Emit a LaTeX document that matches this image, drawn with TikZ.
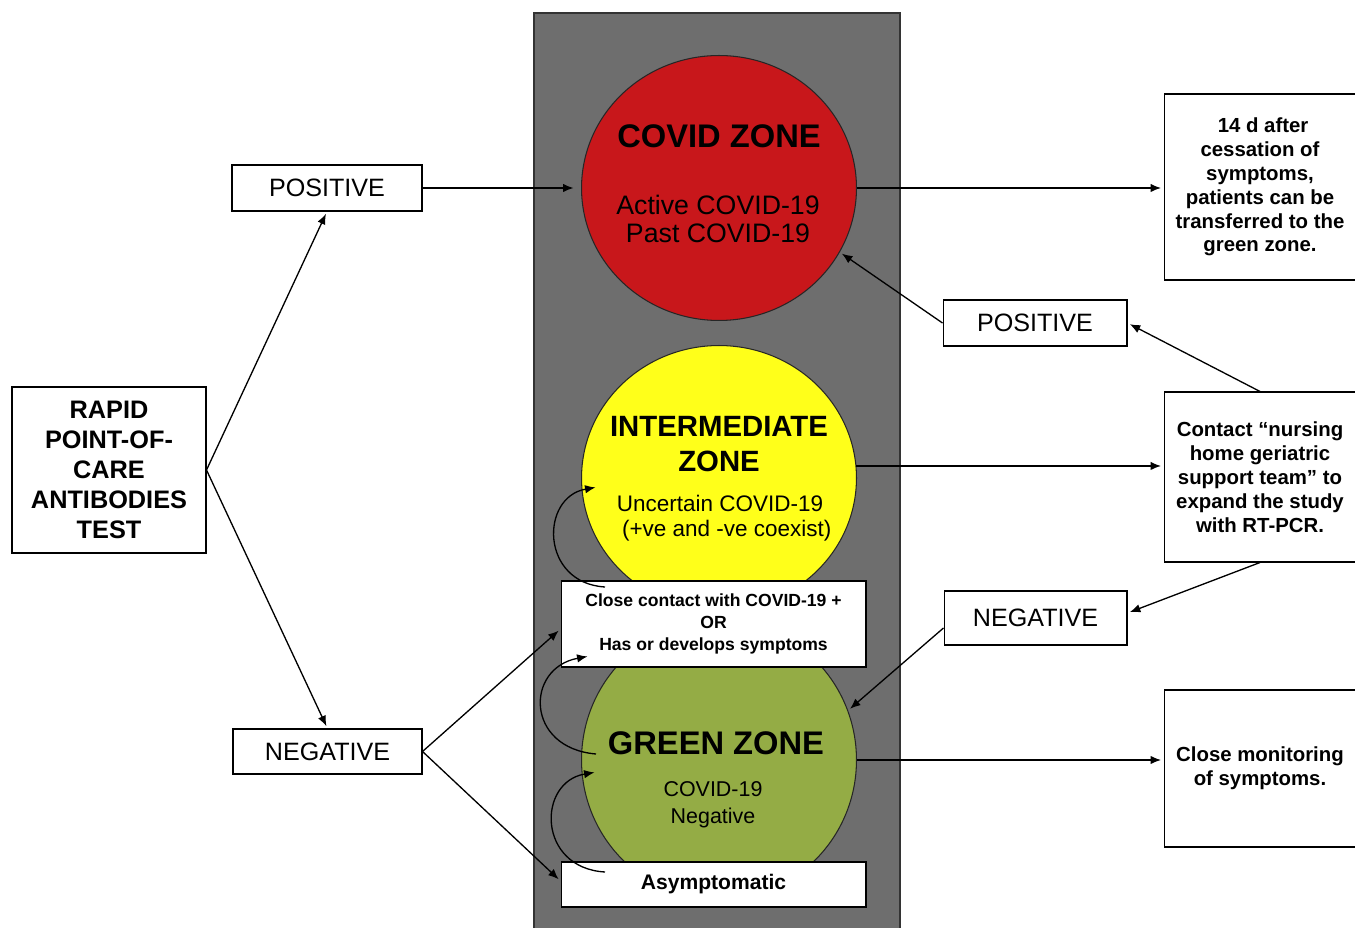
\documentclass[tikz,border=0pt]{standalone}
\usepackage{fontspec}
\setmainfont{Liberation Sans}
\usetikzlibrary{shapes.geometric,arrows.meta}
\definecolor{panel}{HTML}{6E6E6E}
\definecolor{zred}{HTML}{C8171B}
\definecolor{zyel}{HTML}{FFFF1A}
\definecolor{zgrn}{HTML}{94AC45}
\begin{document}
\begin{tikzpicture}[x=0.02cm,y=-0.02cm,
  box/.style={draw=black, line width=0.6pt, fill=white, inner sep=0pt, align=center},
  lbl/.style={font=\fontsize{14.3}{17}\selectfont},
  side/.style={font=\bfseries\fontsize{11.6}{13.6}\selectfont},
  conn/.style={line width=0.75pt, shorten >=0.5mm, -{Latex[length=2.1mm,width=1.7mm]}},
  zone/.style={ellipse, draw=black!85, line width=0.6pt, minimum width=5.5cm, minimum height=5.3cm, inner sep=0pt},
  ztitle/.style={inner sep=0pt, align=center, font=\bfseries\fontsize{18.6}{21}\selectfont},
  ztext/.style={inner sep=0pt, align=center}
]
\useasboundingbox (0,0) rectangle (1355,928);
% panel
\fill[panel] (534,930) rectangle (900,13);
\draw[black!80, line width=0.6pt] (534,930) -- (534,13) -- (900,13) -- (900,930);
% zones
\node[zone, fill=zred] (red) at (719,188) {};
\node[zone, fill=zyel] (yel) at (719,478) {};
\node[zone, fill=zgrn, minimum height=5.6cm] (grn) at (719,760) {};
\node[ztitle] (redt) at (719,136) {COVID ZONE};
\node[ztext, font=\fontsize{15.2}{16.4}\selectfont] (reds) at (718,219) {Active COVID-19\\Past COVID-19};
\node[ztext, font=\bfseries\fontsize{16.7}{19.8}\selectfont] (yelt) at (719,444) {INTERMEDIATE\\ZONE};
\node[ztext, font=\fontsize{12.8}{14.2}\selectfont] (yels) at (720,518) {Uncertain COVID-19\\\hspace*{0.6em}(+ve and -ve coexist)};
\node[ztitle] (grnt) at (716,743) {GREEN ZONE};
\node[ztext, font=\fontsize{12.2}{15.3}\selectfont] (grns) at (713,805) {COVID-19\\Negative};
% boxes on panel
\node[box, minimum width=6.1cm, minimum height=1.72cm, font=\bfseries\fontsize{10}{12.4}\selectfont] (close) at (713.5,624) {Close contact with COVID-19 +\\OR\\Has or develops symptoms};
\node[box, minimum width=6.1cm, minimum height=0.9cm, font=\bfseries\fontsize{12}{14}\selectfont] (asym) at (713.5,884.5) {Asymptomatic};
% left boxes
\node[box, minimum width=3.88cm, minimum height=3.32cm, font=\bfseries\fontsize{14.4}{17}\selectfont] (rapid) at (109,470) {RAPID\\POINT-OF-\\CARE\\ANTIBODIES\\TEST};
\node[box, lbl, minimum width=3.8cm, minimum height=0.92cm] (posL) at (327,188) {POSITIVE};
\node[box, lbl, minimum width=3.78cm, minimum height=0.9cm] (negL) at (327.5,751.5) {NEGATIVE};
% right labels
\node[box, lbl, minimum width=3.68cm, minimum height=0.92cm] (posR) at (1035,323) {POSITIVE};
\node[box, lbl, minimum width=3.66cm, minimum height=1.08cm] (negR) at (1035.5,618) {NEGATIVE};
% right boxes
\node[box, side, minimum width=3.84cm, minimum height=3.72cm] (r1) at (1260,187) {\hspace*{0.3em}14 d after\\cessation of\\symptoms,\\patients can be\\transferred to the\\green zone.};
\node[box, side, minimum width=3.84cm, minimum height=3.4cm] (r2) at (1260,477) {Contact “nursing\\home geriatric\\support team” to\\expand the study\\with RT-PCR.};
\node[box, side, minimum width=3.84cm, minimum height=3.14cm] (r3) at (1260,768.5) {Close monitoring\\of symptoms.};
% connectors
\draw[conn] (rapid.east) -- (posL.south);
\draw[conn] (rapid.east) -- (negL.north);
\draw[conn] (posL.east) -- ([xshift=-1mm]red.west);
\draw[conn] (negL.east) -- ([yshift=-1mm]close.west);
\draw[conn] (negL.east) -- ([yshift=0.7mm]asym.west);
\draw[conn] (red.east) -- (red.east -| r1.west);
\draw[conn] (yel.5) -- (yel.5 -| r2.west);
\draw[conn] (grn.east) -- (grn.east -| r3.west);
\draw[conn] (r2.north) -- (posR.east);
\draw[conn] (posR.west) -- (red.-28);
\draw[conn] (r2.south) -- ([yshift=1mm]negR.east);
\draw[conn] ([yshift=-2mm]negR.west) -- (grn.21);
% curved arrows
\coordinate (c1a) at (605,587);
\coordinate (c1b) at (598,487);
\coordinate (c2a) at (596,754);
\coordinate (c2b) at (590,656);
\coordinate (c3a) at (605,872);
\coordinate (c3b) at (597,772);
\draw[conn] (c1a) .. controls (540,583) and (540,497) .. (c1b);
\draw[conn] (c2a) .. controls (525,748) and (525,668) .. (c2b);
\draw[conn] (c3a) .. controls (537,868) and (537,782) .. (c3b);
\end{tikzpicture}
\end{document}
